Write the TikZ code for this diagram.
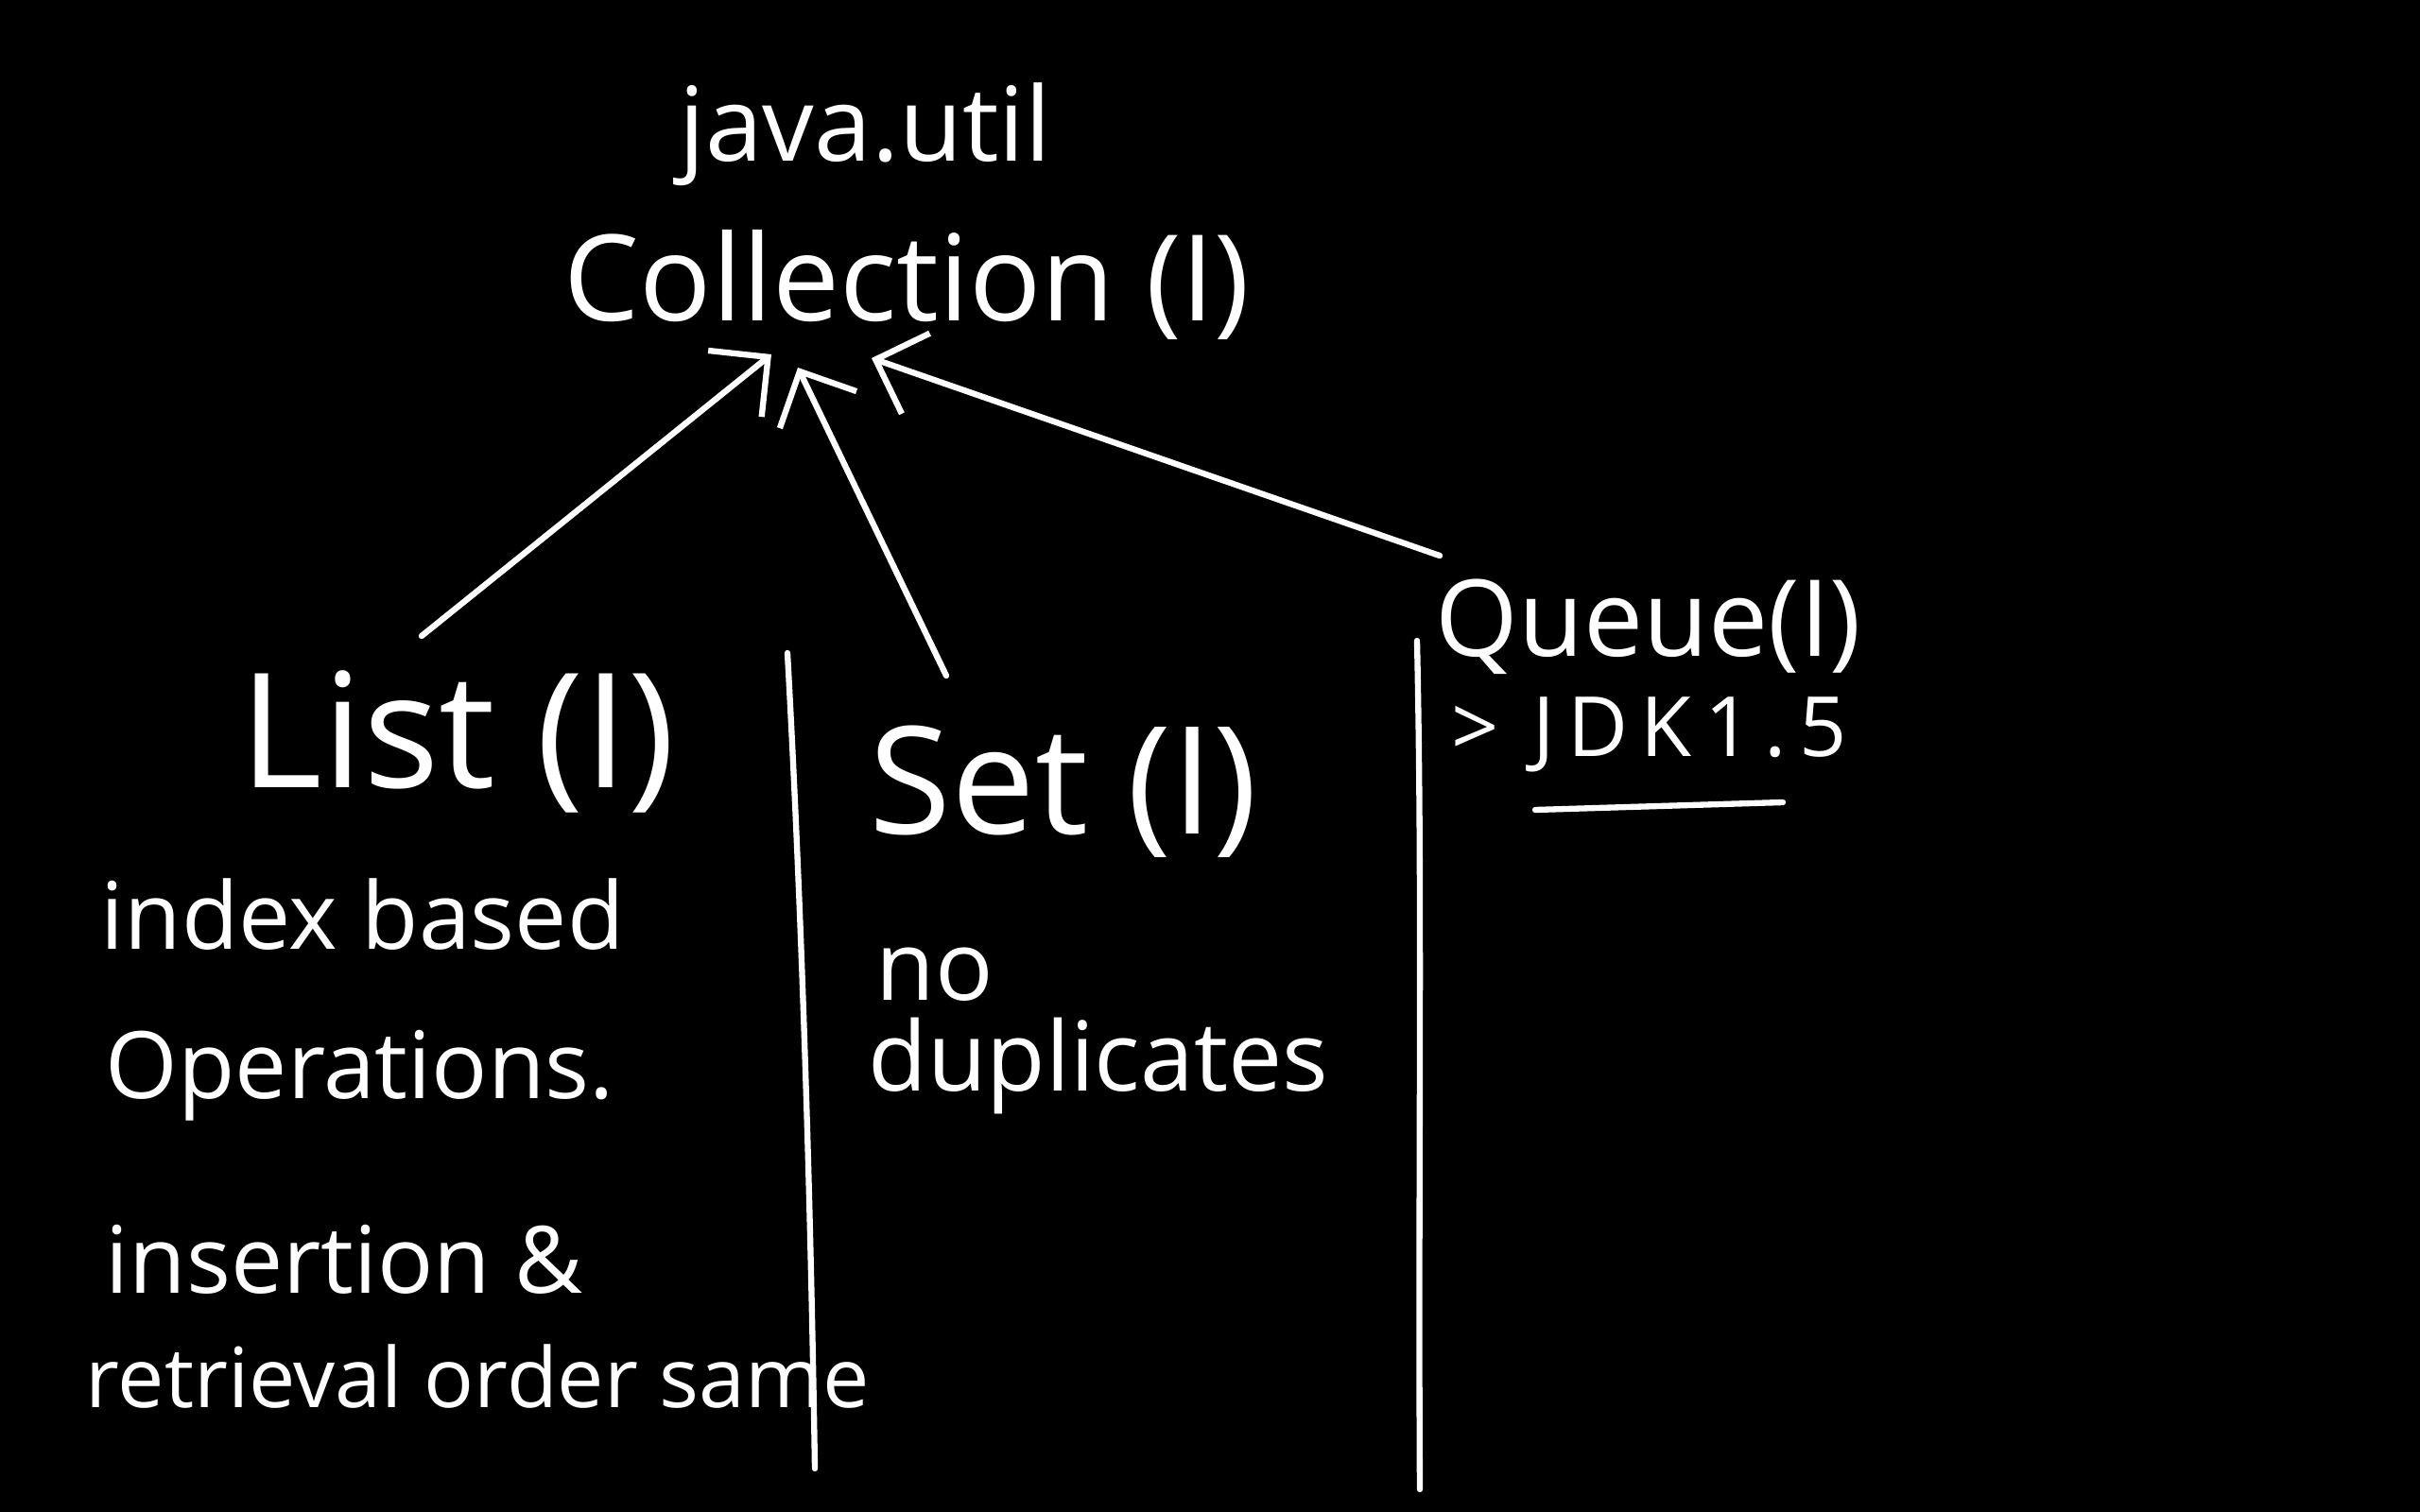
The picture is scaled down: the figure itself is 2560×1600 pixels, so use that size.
\documentclass[tikz,border=0pt]{standalone}
\usepackage{fontspec}
\setmainfont{Open Sans}
\usetikzlibrary{arrows.meta}
\begin{document}
\begin{tikzpicture}[x=0.01cm,y=-0.01cm,
  txt/.style={text=white,inner sep=0pt,anchor=base west},
  ink/.style={draw=white,line width=1.8pt,line cap=round,line join=round},
  arr/.style={ink,-{Straight Barb[length=4.5mm,width=9mm,line width=1.8pt]}}]
\fill[black] (0,0) rectangle (2560,1600);
\useasboundingbox (0,0) rectangle (2560,1600);
\node[txt,font=\fontsize{31}{36}\selectfont] (java) at (718,171) {java.util};
\node[txt,font=\fontsize{36}{42}\selectfont] (coll) at (596,340) {Collection (I)};
\node[txt,font=\fontsize{48}{56}\selectfont] (list) at (253,833) {List (I)};
\node[txt,font=\fontsize{45}{52}\selectfont] (set) at (919,882) {Set (I)};
\node[txt,font=\fontsize{32}{38}\selectfont] (queue) at (1518,694) {Queue(I)};
\node[txt,font=\fontsize{25}{30}\selectfont\addfontfeature{LetterSpace=15}] (jdk) at (1535,800) {> JDK1.5};
\node[txt,font=\fontsize{28}{32}\selectfont] (idx) at (106,1004) {index based};
\node[txt,font=\fontsize{28}{32}\selectfont] (ops) at (111,1162) {Operations.};
\node[txt,font=\fontsize{28}{32}\selectfont] (ins) at (111,1368) {insertion \&};
\node[txt,font=\fontsize{25}{30}\selectfont] (ret) at (90,1489) {retrieval order same};
\node[txt,font=\fontsize{29}{34}\selectfont] (no) at (926,1058) {no};
\node[txt,font=\fontsize{29}{34}\selectfont] (dup) at (918,1154) {duplicates};
% arrows to Collection
\draw[arr] ([shift={(193,-160)}]list.base west) -- ([shift={(220,35)}]coll.base west);
\draw[arr] ([shift={(82,-167)}]set.base west) -- ([shift={(248,49)}]coll.base west);
\draw[arr] ([shift={(5,-106)}]queue.base west) -- ([shift={(326,39)}]coll.base west);
% separators
\coordinate (s1a) at (833,691);
\coordinate (s1b) at (862,1554);
\draw[ink] (s1a) .. controls (850,1000) and (858,1300) .. (s1b);
\coordinate (s2a) at (1499,678);
\coordinate (s2b) at (1502,1576);
\draw[ink] (s2a) .. controls (1505,950) and (1500,1250) .. (s2b);
% underline
\coordinate (u1) at (1624,857);
\coordinate (u2) at (1886,849);
\draw[ink] (u1) -- (u2);
\end{tikzpicture}
\end{document}
